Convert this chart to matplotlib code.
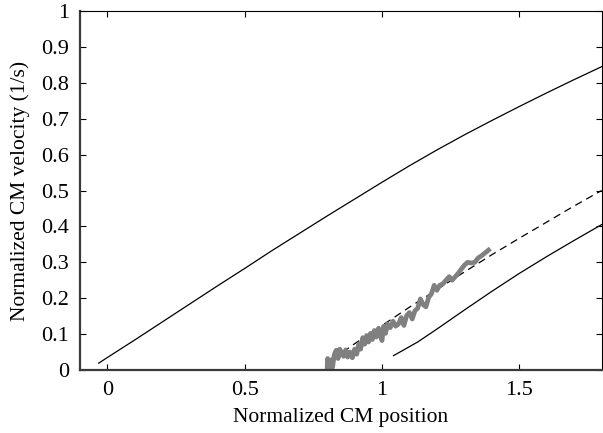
import matplotlib
matplotlib.use("Agg")
import matplotlib.pyplot as plt

# upper solid curve
upper_x = [-0.032, 0.0, 0.1, 0.2, 0.3, 0.4, 0.5, 0.6, 0.7, 0.8, 0.9, 1.0,
           1.1, 1.2, 1.3, 1.4, 1.5, 1.6, 1.7, 1.8]
upper_y = [0.019, 0.035, 0.084, 0.134, 0.184, 0.234, 0.283, 0.333, 0.381, 0.429,
           0.476, 0.523, 0.569, 0.613, 0.655, 0.695, 0.734, 0.772, 0.809, 0.845]

# dashed curve
dashed_x = [0.82, 0.9, 1.0, 1.1, 1.2, 1.3, 1.4, 1.5, 1.6, 1.7, 1.8]
dashed_y = [0.030, 0.073, 0.124, 0.175, 0.224, 0.273, 0.321, 0.367, 0.412, 0.457, 0.500]

# lower solid curve
lower_x = [1.042, 1.1, 1.13, 1.2, 1.3, 1.4, 1.5, 1.6, 1.7, 1.8]
lower_y = [0.040, 0.065, 0.078, 0.114, 0.167, 0.219, 0.269, 0.316, 0.361, 0.405]

# measured (gray) trace
gray_x = [0.800, 0.802, 0.806, 0.810, 0.815, 0.820, 0.826, 0.833, 0.840, 0.846,
          0.853, 0.860, 0.868, 0.875, 0.883, 0.892, 0.900, 0.908, 0.915, 0.922,
          0.930, 0.937, 0.944, 0.951, 0.958, 0.965, 0.972, 0.980, 0.987, 0.994,
          1.000, 1.006, 1.013, 1.020, 1.030, 1.040, 1.050, 1.060, 1.070, 1.080,
          1.090, 1.100, 1.110, 1.120, 1.130, 1.140, 1.150, 1.160, 1.170, 1.180,
          1.190, 1.200, 1.210, 1.222, 1.235, 1.245, 1.255, 1.265, 1.278, 1.290,
          1.300, 1.312, 1.325, 1.338, 1.350, 1.362, 1.375, 1.388]
gray_y = [0.000, 0.032, 0.003, 0.000, 0.028, 0.008, 0.042, 0.055, 0.032, 0.058,
          0.048, 0.038, 0.056, 0.036, 0.050, 0.034, 0.058, 0.044, 0.072, 0.058,
          0.090, 0.072, 0.096, 0.078, 0.102, 0.085, 0.110, 0.092, 0.116, 0.098,
          0.082, 0.122, 0.102, 0.128, 0.118, 0.136, 0.122, 0.128, 0.146, 0.124,
          0.152, 0.160, 0.142, 0.165, 0.172, 0.198, 0.182, 0.176, 0.202, 0.212,
          0.236, 0.222, 0.236, 0.240, 0.252, 0.260, 0.250, 0.258, 0.270, 0.282,
          0.292, 0.300, 0.298, 0.300, 0.312, 0.318, 0.326, 0.334]

x_ticks = [0, 0.5, 1, 1.5]
x_tick_labels = ["0", "0.5", "1", "1.5"]
y_ticks = [0, 0.1, 0.2, 0.3, 0.4, 0.5, 0.6, 0.7, 0.8, 0.9, 1]
y_tick_labels = ["0", "0.1", "0.2", "0.3", "0.4", "0.5", "0.6", "0.7", "0.8", "0.9", "1"]

plt.rcParams["font.family"] = ["Liberation Serif", "DejaVu Serif"]

fig = plt.figure(figsize=(6.03, 4.33), dpi=100)
ax = fig.add_axes([0.1327, 0.1455, 0.865, 0.829])

ax.plot(upper_x, upper_y, color="black", lw=0.9)
ax.plot(dashed_x, dashed_y, color="black", lw=0.9, dashes=(6, 4))
ax.plot(lower_x, lower_y, color="black", lw=0.9)
ax.plot(gray_x, gray_y, color="#808080", lw=3.4, solid_joinstyle="round")

ax.set_xlim(-0.1, 1.8)
ax.set_ylim(0, 1)
ax.set_xticks(x_ticks)
ax.set_xticklabels(x_tick_labels)
ax.set_yticks(y_ticks)
ax.set_yticklabels(y_tick_labels)
ax.tick_params(direction="in", length=4, width=0.8, top=True, right=True,
               labelsize=16, pad=8)

for side in ["left", "bottom"]:
    ax.spines[side].set_linewidth(1.6)
    ax.spines[side].set_color("#3a3a3a")
for side in ["top", "right"]:
    ax.spines[side].set_linewidth(0.8)
    ax.spines[side].set_color("black")

ax.set_xlabel("Normalized CM position", fontsize=15.5, labelpad=6)
ax.set_ylabel("Normalized CM velocity (1/s)", fontsize=15.5, labelpad=8)

fig.savefig("out.png", dpi=100)
plt.close(fig)
